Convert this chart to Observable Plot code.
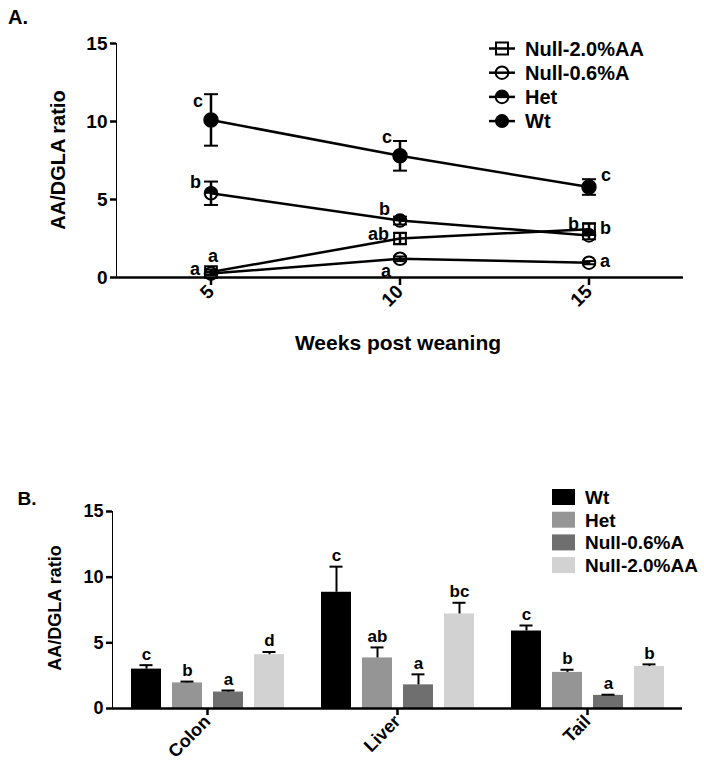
<!DOCTYPE html>
<html>
<head>
<meta charset="utf-8">
<script src="https://cdn.jsdelivr.net/npm/d3@7"></script>
<script src="https://cdn.jsdelivr.net/npm/@observablehq/plot@0.6"></script>
<style>
  body { margin: 0; background: #fff; }
  #root { position: relative; width: 704px; height: 769px; font-family: "Liberation Sans", Arial, sans-serif; font-weight: bold; color: #000; }
  .abs { position: absolute; white-space: nowrap; line-height: 1; }
  .plot { position: absolute; left: 0; }
  .plot [aria-label$="tick"] { stroke-width: 2.5px; }
  .plot [aria-label$="axis line"], .plot [aria-label="rule"] { stroke-width: 2.5px; }
</style>
</head>
<body>
<div id="root"></div>
<script>
// ---------- Panel A data ----------
const weeks = [5, 10, 15];
const seriesA = ["Null-2.0%AA", "Null-0.6%A", "Het", "Wt"];
const wtMean = [10.1, 7.8, 5.8];
const wtErr = [1.65, 0.95, 0.5];
const hetMean = [5.4, 3.65, 2.7];
const hetErr = [0.75, 0.25, 0.25];
const null06Mean = [0.25, 1.2, 0.95];
const null06Err = [0.1, 0.15, 0.1];
const null20Mean = [0.35, 2.5, 3.1];
const null20Err = [0.15, 0.35, 0.35];
const wtLetters = ["c", "c", "c"];
const hetLetters = ["b", "b", "b"];
const null06Letters = ["a", "a", "a"];
const null20Letters = ["a", "ab", "b"];
const yTicks = [0, 5, 10, 15];

// ---------- Panel B data ----------
const tissues = ["Colon", "Liver", "Tail"];
const groupsB = ["Wt", "Het", "Null-0.6%A", "Null-2.0%AA"];
const colonMean = [3.0, 1.95, 1.25, 4.1];
const colonErr = [0.3, 0.1, 0.12, 0.2];
const liverMean = [8.85, 3.85, 1.8, 7.2];
const liverErr = [1.95, 0.8, 0.8, 0.85];
const tailMean = [5.9, 2.75, 1.0, 3.2];
const tailErr = [0.42, 0.2, 0.05, 0.16];
const colonLetters = ["c", "b", "a", "d"];
const liverLetters = ["c", "ab", "a", "bc"];
const tailLetters = ["c", "b", "a", "b"];

// ---------- build tables ----------
const seriesSrc = {
  "Wt": [wtMean, wtErr, wtLetters],
  "Het": [hetMean, hetErr, hetLetters],
  "Null-0.6%A": [null06Mean, null06Err, null06Letters],
  "Null-2.0%AA": [null20Mean, null20Err, null20Letters]
};
// where each significance letter sits relative to its point
const placement = {
  "Wt": ["ul", "ul", "ur"],
  "Het": ["l1", "l1", "l1"],
  "Null-0.6%A": ["l", "bl", "r"],
  "Null-2.0%AA": ["a", "l", "r"]
};
const rowsA = [];
for (const s of seriesA) {
  const [m, e, l] = seriesSrc[s];
  weeks.forEach((w, i) => rowsA.push({series: s, week: w, mean: m[i], err: e[i], letter: l[i], place: placement[s][i]}));
}
const tissueSrc = {
  Colon: [colonMean, colonErr, colonLetters],
  Liver: [liverMean, liverErr, liverLetters],
  Tail: [tailMean, tailErr, tailLetters]
};
const rowsB = [];
for (const t of tissues) {
  const [m, e, l] = tissueSrc[t];
  groupsB.forEach((g, i) => rowsB.push({tissue: t, group: g, value: m[i], err: e[i], letter: l[i]}));
}

// custom symbols
const hline = {draw(ctx, size) { const r = Math.sqrt(size / Math.PI); ctx.moveTo(-r, 0); ctx.lineTo(r, 0); }};
const topHalf = {draw(ctx, size) { const r = Math.sqrt(size / Math.PI); ctx.moveTo(r, 0); ctx.arc(0, 0, r, 0, Math.PI, true); ctx.closePath(); }};

const FONT = '"Liberation Sans", Arial, sans-serif';
const root = document.getElementById("root");
const of = s => d => d.series === s;

// ---------- Panel A ----------
const placeOpts = {
  ul: {dx: -8, dy: -19, textAnchor: "end"},
  ur: {dx: 12, dy: -12, textAnchor: "start"},
  l1: {dx: -10, dy: -11, textAnchor: "end"},
  l:  {dx: -11, dy: -4, textAnchor: "end"},
  r:  {dx: 11, dy: -1, textAnchor: "start"},
  a:  {dx: 2, dy: -16, textAnchor: "middle"},
  bl: {dx: -9, dy: 12, textAnchor: "end"}
};
const letterMarks = Object.entries(placeOpts).map(([k, o]) =>
  Plot.text(rowsA.filter(d => d.place === k), {x: "week", y: "mean", text: "letter", fontSize: 18, fontWeight: "bold", ...o})
);

const plotA = Plot.plot({
  width: 704, height: 360,
  marginLeft: 116, marginRight: 21, marginTop: 43, marginBottom: 83,
  style: {fontFamily: FONT, fontWeight: "bold", fontSize: "19px", color: "#000", background: "transparent"},
  x: {domain: [2.5, 17.5], ticks: weeks, tickRotate: -45, tickSize: 8, tickPadding: 3, label: null},
  y: {domain: [0, 15], ticks: yTicks, tickSize: 6, tickPadding: 3, line: true, label: null},
  marks: [
    Plot.ruleY([0], {strokeWidth: 2.5}),
    Plot.line(rowsA, {x: "week", y: "mean", z: "series", stroke: "#000", strokeWidth: 2.5}),
    Plot.ruleX(rowsA, {x: "week", y1: d => d.mean - d.err, y2: d => d.mean + d.err, strokeWidth: 2}),
    Plot.dot(rowsA, {x: "week", y: d => d.mean + d.err, symbol: hline, r: 7, stroke: "#000", strokeWidth: 2}),
    Plot.dot(rowsA, {x: "week", y: d => d.mean - d.err, symbol: hline, r: 7, stroke: "#000", strokeWidth: 2}),
    Plot.dot(rowsA.filter(of("Null-2.0%AA")), {x: "week", y: "mean", symbol: "square", r: 6.6, fill: "none", stroke: "#000", strokeWidth: 2}),
    Plot.dot(rowsA.filter(of("Null-0.6%A")), {x: "week", y: "mean", r: 6.3, fill: "none", stroke: "#000", strokeWidth: 2}),
    Plot.dot(rowsA.filter(of("Het")), {x: "week", y: "mean", r: 6.3, fill: "none", stroke: "#000", strokeWidth: 2}),
    Plot.dot(rowsA.filter(of("Het")), {x: "week", y: "mean", r: 6.3, symbol: topHalf, fill: "#000", stroke: "#000", strokeWidth: 1}),
    Plot.dot(rowsA.filter(of("Wt")), {x: "week", y: "mean", r: 7, fill: "#000", stroke: "#000"}),
    ...letterMarks
  ]
});
plotA.classList.add("plot");
plotA.style.top = "0px";
root.appendChild(plotA);

// ---------- Panel B ----------
const colorsB = ["#000000", "#959595", "#6f6f6f", "#d2d2d2"];
const plotB = Plot.plot({
  width: 704, height: 299,
  marginLeft: 111, marginRight: 21, marginTop: 41, marginBottom: 61,
  style: {fontFamily: FONT, fontWeight: "bold", fontSize: "18px", color: "#000", background: "transparent"},
  fx: {domain: tissues, padding: 0, axis: "bottom", tickRotate: -45, tickSize: 7, tickPadding: 3, label: null},
  x: {domain: groupsB, paddingInner: 0.27, paddingOuter: 0.45, axis: null},
  y: {domain: [0, 15], ticks: yTicks, tickSize: 6, tickPadding: 3, line: true, label: null},
  color: {domain: groupsB, range: colorsB},
  marks: [
    Plot.barY(rowsB, {fx: "tissue", x: "group", y: "value", fill: "group"}),
    Plot.ruleX(rowsB, {fx: "tissue", x: "group", y1: "value", y2: d => d.value + d.err, strokeWidth: 2}),
    Plot.tickY(rowsB, {fx: "tissue", x: "group", y: d => d.value + d.err, strokeWidth: 2, insetLeft: 8.5, insetRight: 8.5}),
    Plot.text(rowsB, {fx: "tissue", x: "group", y: d => d.value + d.err, text: "letter", dy: -11, fontSize: 17, fontWeight: "bold"}),
    Plot.ruleY([0], {strokeWidth: 2.5})
  ]
});
plotB.classList.add("plot");
plotB.style.top = "470px";
root.appendChild(plotB);

// ---------- Titles ----------
function label(text, x, y, size, rotate) {
  const d = document.createElement("div");
  d.className = "abs";
  d.textContent = text;
  d.style.left = x + "px";
  d.style.top = y + "px";
  d.style.fontSize = size + "px";
  d.style.transform = `translate(-50%, -50%)${rotate ? " rotate(-90deg)" : ""}`;
  root.appendChild(d);
}
label("A.", 18, 17, 20);
label("AA/DGLA ratio", 58, 160, 20, true);
label("Weeks post weaning", 398, 342, 21);
label("B.", 27, 498, 19);
label("AA/DGLA ratio", 55, 608, 18, true);

// ---------- Legend A ----------
const legA = d3.select(root).append("svg")
  .attr("width", 220).attr("height", 110)
  .style("position", "absolute").style("left", "480px").style("top", "30px")
  .attr("font-family", FONT).attr("font-weight", "bold").attr("font-size", 20);
const legOrderA = ["Null-2.0%AA", "Null-0.6%A", "Het", "Wt"];
legOrderA.forEach((s, i) => {
  const g = legA.append("g").attr("transform", `translate(22, ${18.5 + i * 24.2})`);
  g.append("line").attr("x1", -13).attr("x2", 13).attr("stroke", "#000").attr("stroke-width", 2.5);
  if (s === "Null-2.0%AA") g.append("rect").attr("x", -6).attr("y", -6).attr("width", 12).attr("height", 12).attr("fill", "none").attr("stroke", "#000").attr("stroke-width", 2);
  if (s === "Null-0.6%A") g.append("circle").attr("r", 6.3).attr("fill", "none").attr("stroke", "#000").attr("stroke-width", 2);
  if (s === "Het") {
    g.append("circle").attr("r", 6.3).attr("fill", "none").attr("stroke", "#000").attr("stroke-width", 2);
    g.append("path").attr("d", d3.arc()({innerRadius: 0, outerRadius: 6.3, startAngle: -Math.PI / 2, endAngle: Math.PI / 2})).attr("fill", "#000");
  }
  if (s === "Wt") g.append("circle").attr("r", 7).attr("fill", "#000");
  g.append("text").attr("x", 23).attr("dy", "0.36em").text(s);
});

// ---------- Legend B ----------
const legB = d3.select(root).append("svg")
  .attr("width", 160).attr("height", 100)
  .style("position", "absolute").style("left", "544px").style("top", "480px")
  .attr("font-family", FONT).attr("font-weight", "bold").attr("font-size", 19);
groupsB.forEach((s, i) => {
  const g = legB.append("g").attr("transform", `translate(8, ${17 + i * 22.7})`);
  g.append("rect").attr("x", 0).attr("y", -8).attr("width", 23).attr("height", 16).attr("fill", colorsB[i]);
  g.append("text").attr("x", 33).attr("dy", "0.36em").text(s);
});
</script>
</body>
</html>
